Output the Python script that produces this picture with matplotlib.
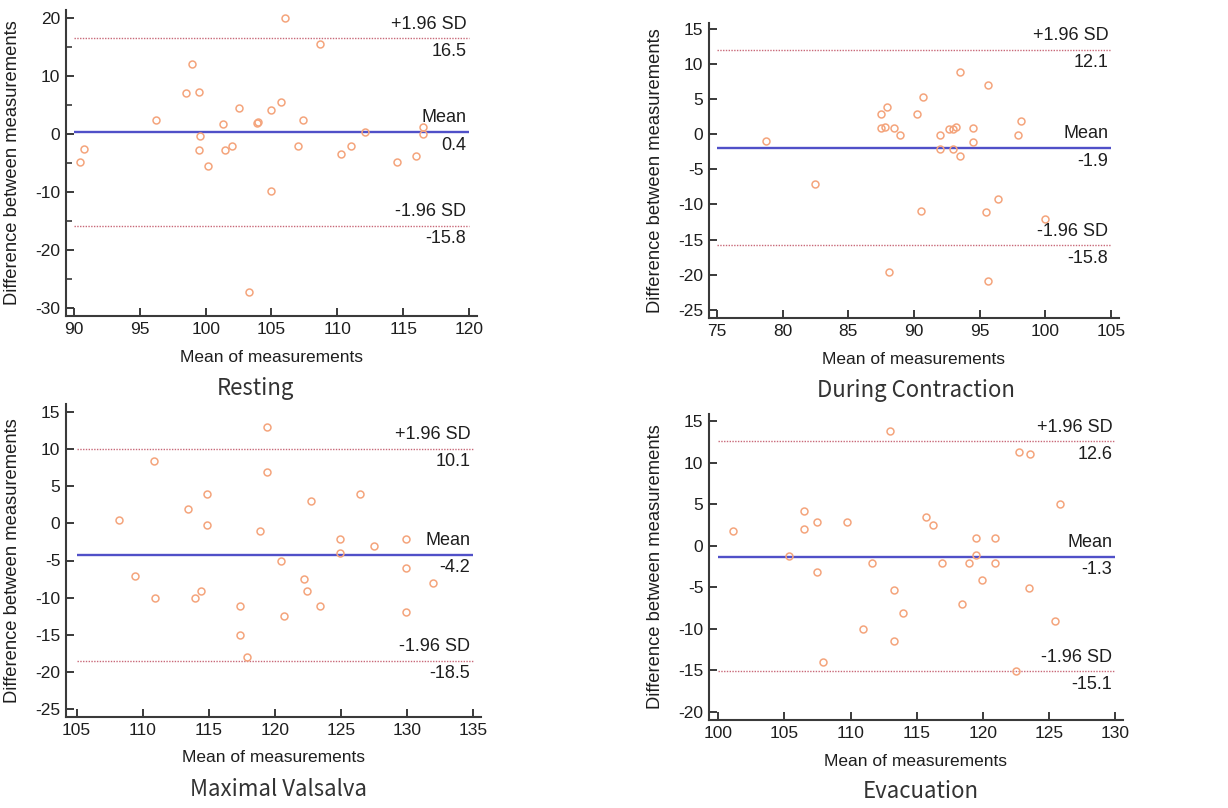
import numpy as np
import matplotlib
matplotlib.use("Agg")
import matplotlib.pyplot as plt

plt.rcParams['font.family'] = ['Liberation Sans', 'DejaVu Sans']
plt.rcParams['axes.unicode_minus'] = False

# Bland-Altman data: (mean, difference) per panel
rest_x = [106.0, 108.7, 99.0, 98.5, 99.5, 96.2, 101.3, 102.5, 103.9, 104.0, 105.0, 105.7,
          107.4, 99.6, 99.5, 100.15, 101.5, 102.0, 107.0, 110.25, 111.0, 112.1, 114.5,
          116.0, 116.5, 116.5, 90.5, 90.8, 105.0, 103.3]
rest_y = [20.0, 15.6, 12.05, 7.06, 7.2, 2.5, 1.7, 4.5, 1.9, 2.1, 4.1, 5.45,
          2.35, -0.3, -2.8, -5.45, -2.8, -2.0, -2.0, -3.4, -2.0, 0.3, -4.9,
          -3.85, 1.2, 0.05, -4.9, -2.5, -9.9, -27.3]

contr_x = [78.7, 82.5, 87.47, 87.47, 87.8, 87.98, 88.5, 88.96, 90.23, 90.68, 90.55, 88.1,
           91.97, 91.97, 92.63, 92.94, 93.19, 92.99, 93.47, 93.47, 94.48, 94.48, 95.6,
           95.47, 95.6, 96.36, 97.95, 98.16, 99.98]
contr_y = [-0.9, -7.1, 2.95, 0.95, 1.05, 3.9, 0.95, -0.1, 2.95, 5.33, -10.86, -19.7,
           -0.1, -2.14, 0.81, 0.81, 1.05, -2.14, 8.86, -3.05, 0.95, -1.05, 7.1,
           -11.1, -20.9, -9.2, -0.1, 1.9, -12.05]

valsalva_x = [108.2, 109.44, 110.85, 110.9, 113.45, 113.95, 114.45, 114.9, 114.86, 117.4,
              117.4, 117.93, 118.91, 119.42, 119.42, 120.48, 120.7, 122.19, 122.47, 122.72,
              123.4, 124.96, 124.96, 126.45, 127.5, 129.93, 129.93, 129.93, 131.95]
valsalva_y = [0.51, -7.1, 8.48, -10.0, 1.94, -10.0, -9.07, 3.96, -0.16, -11.1,
              -15.0, -18.06, -1.0, 12.97, 6.9, -5.04, -12.5, -7.55, -9.07, 2.97,
              -11.1, -2.08, -4.05, 3.96, -3.03, -2.08, -5.98, -12.0, -8.0]

evac_x = [101.1, 105.34, 106.5, 106.45, 107.48, 107.48, 107.93, 109.75, 110.96, 111.66,
          112.95, 113.27, 113.27, 113.93, 115.72, 116.25, 116.95, 118.44, 118.94, 119.47,
          119.47, 119.92, 120.96, 120.96, 122.52, 122.7, 123.6, 123.48, 125.47, 125.8]
evac_y = [1.77, -1.25, 4.22, 2.09, 2.9, -3.1, -14.0, 2.9, -10.0, -2.05,
          13.84, -5.35, -11.46, -8.05, 3.42, 2.49, -2.05, -7.0, -2.05, 0.93,
          -1.05, -4.1, 0.93, -2.05, -15.08, 11.26, 11.06, -5.03, -9.05, 5.07]

captions = ["Resting", "During Contraction", "Maximal Valsalva", "Evacuation"]
means = [0.4, -1.9, -4.2, -1.3]
upper = [16.5, 12.1, 10.1, 12.6]
lower = [-15.8, -15.8, -18.5, -15.1]
xticks = [np.arange(90, 121, 5), np.arange(75, 106, 5), np.arange(105, 136, 5), np.arange(100, 131, 5)]
yticks = [np.arange(-30, 21, 10), np.arange(-25, 16, 5), np.arange(-25, 16, 5), np.arange(-20, 16, 5)]
xlims = [(89.4, 120.6), (74.4, 105.6), (104.2, 135.6), (99.3, 130.6)]
ylims = [(-31.4, 21.4), (-26.2, 15.9), (-26.1, 16.1), (-21.0, 15.9)]
xs = [rest_x, contr_x, valsalva_x, evac_x]
ys = [rest_y, contr_y, valsalva_y, evac_y]

W, H = 1228, 808
# axes boxes in pixels: left, top, right, bottom
boxes = [(66, 10, 477, 316), (709, 23, 1119, 318), (66, 404, 481, 717), (709, 414, 1123, 720)]
cap_x = [255, 916, 278, 921]

fig = plt.figure(figsize=(W / 100, H / 100), dpi=100)
spine_col = '#3a3a3a'
txt_col = '#1e1e1e'

for i in range(4):
    l, t, r, b = boxes[i]
    ax = fig.add_axes([l / W, 1 - b / H, (r - l) / W, (b - t) / H])
    ax.plot(xs[i], ys[i], 'o', mfc='none', mec='#f4a47c', ms=5, mew=1.1, zorder=3)
    x0, x1 = xticks[i][0], xticks[i][-1]
    ax.hlines(means[i], x0, x1, colors='#5050c8', lw=1.7, zorder=2)
    ax.hlines([upper[i], lower[i]], x0, x1, colors='#c86878', lw=1.0, linestyles=(0, (1, 1)), zorder=2)
    for val, name in [(upper[i], '+1.96 SD'), (means[i], 'Mean'), (lower[i], '-1.96 SD')]:
        ax.annotate(name, xy=(x1, val), xytext=(-2, 4), textcoords='offset points',
                    ha='right', va='bottom', fontsize=13, color=txt_col)
        ax.annotate('%.1f' % val, xy=(x1, val), xytext=(-2, -3.5), textcoords='offset points',
                    ha='right', va='top', fontsize=13, color=txt_col)
    ax.set_xlim(xlims[i])
    ax.set_ylim(ylims[i])
    ax.set_xticks(xticks[i])
    ax.set_yticks(yticks[i])
    if i == 0:
        ax.set_yticks(np.arange(-25, 16, 10), minor=True)
    for s in ['top', 'right']:
        ax.spines[s].set_visible(False)
    for s in ['left', 'bottom']:
        ax.spines[s].set_color(spine_col)
        ax.spines[s].set_linewidth(1.5)
    ax.tick_params(which='major', direction='in', length=6, width=1.4, color=spine_col,
                   labelsize=12.5, labelcolor=txt_col, pad=4)
    ax.tick_params(which='minor', direction='in', length=4, width=1.2, color=spine_col)
    ax.set_xlabel('Mean of measurements', fontsize=12.5, color=txt_col)
    ax.xaxis.set_label_coords(0.5, -41 / (b - t))
    ax.set_ylabel('Difference between measurements', fontsize=13.2, color=txt_col)
    ax.yaxis.set_label_coords(-53 / (r - l), 0.5)
    ax.xaxis.label.set_va('center')
    ax.yaxis.label.set_va('center')
    fig.text(cap_x[i] / W, 1 - (b + 72) / H, captions[i], ha='center', va='center',
             fontsize=16, color='#333333', family=['Noto Sans CJK SC', 'DejaVu Sans'])

fig.savefig('out.png', dpi=100, facecolor='white')
